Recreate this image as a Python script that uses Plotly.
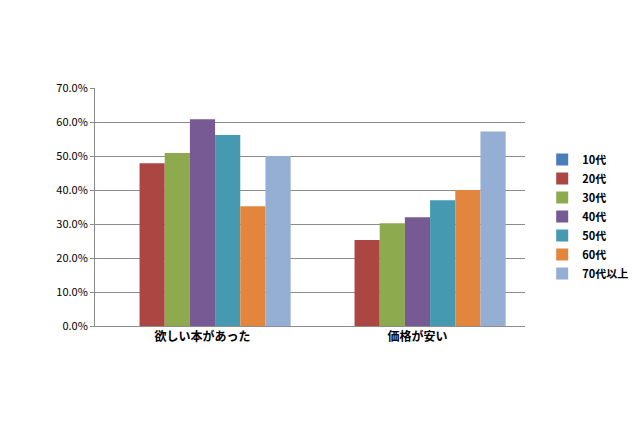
import plotly.graph_objects as go

categories = ["欲しい本があった", "価格が安い"]
series = ["10代", "20代", "30代", "40代", "50代", "60代", "70代以上"]
values = [
    [0.0, 0.0],
    [47.9, 25.3],
    [50.9, 30.2],
    [60.8, 32.0],
    [56.2, 37.0],
    [35.2, 40.0],
    [50.0, 57.2],
]
colors = ["#4A7EBB", "#AC4643", "#8EAA4F", "#775A93", "#4599B0", "#E2863E", "#94AED4"]

fig = go.Figure()
for name, vals, c in zip(series, values, colors):
    fig.add_trace(go.Bar(x=categories, y=vals, name=name, marker_color=c,
                         marker_line_width=0))

fig.update_layout(
    width=640, height=426,
    margin=dict(l=87, r=123, t=80, b=108, autoexpand=False),
    paper_bgcolor="white", plot_bgcolor="white",
    barmode="group", bargap=0.18, bargroupgap=0,
    font=dict(family="Noto Sans CJK JP", size=12, color="black"),
    showlegend=True,
    legend=dict(x=1.04, y=0.46, xanchor="left", yanchor="middle",
                font=dict(size=11, weight="bold"), itemwidth=30, tracegroupgap=0),
    yaxis=dict(range=[0, 70], dtick=10, ticksuffix=".0%", showgrid=True, automargin=False,
               gridcolor="#8C8C8C", gridwidth=1, showline=True, linecolor="#8C8C8C",
               ticks="outside", ticklen=4, tickcolor="#8C8C8C", tickfont=dict(size=11)),
    xaxis=dict(showline=True, linecolor="#8C8C8C", automargin=False,
               tickfont=dict(size=12, weight="bold"), ticks="", mirror=False),
)
fig.write_html("out.html")
